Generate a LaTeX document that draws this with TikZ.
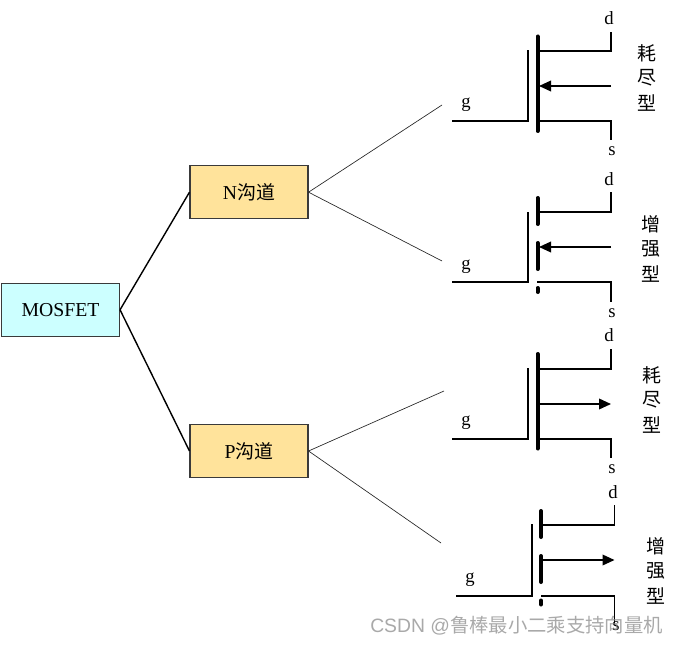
\documentclass[tikz,border=0pt]{standalone}
\usepackage{fontspec}
\setmainfont{Liberation Serif}
\newfontfamily\cjk{Noto Sans CJK SC}
\newfontfamily\wm{Liberation Sans}
\usetikzlibrary{arrows.meta}
\definecolor{boxcyan}{HTML}{CCFFFF}
\definecolor{boxyellow}{HTML}{FFE39B}
\definecolor{boxedge}{HTML}{3A3A3A}
\tikzset{
  x=0.75pt,y=-0.75pt,
  box/.style={draw=boxedge,line width=0.8pt,minimum width=88.5pt,minimum height=39.4pt,inner sep=0pt,anchor=center,font=\fontsize{14.8pt}{16pt}\selectfont},
  trunk/.style={line width=1.05pt,black},
  branch/.style={line width=0.5pt,black!85},
  wire/.style={line width=1.15pt,black},
  chan/.style={line width=3pt,black,line cap=round},
  arrowed/.style={wire,-{Triangle[length=9pt,width=8pt]}},
  pin/.style={font=\fontsize{14pt}{14pt}\selectfont,inner sep=0pt},
  kind/.style={font=\fontsize{14.2pt}{14pt}\selectfont\cjk,inner sep=0pt},
}
\newcommand{\cj}[1]{{\cjk\fontsize{14.2pt}{16pt}\selectfont #1}}
\begin{document}
\begin{tikzpicture}
\useasboundingbox (0,0) rectangle (677,645);
\node[box,fill=boxcyan] (mos) at (60.5,309.8) {MOSFET};
\node[box,fill=boxyellow] (nch) at (249,192.2) {N\cj{沟道}};
\node[box,fill=boxyellow] (pch) at (249,451) {P\cj{沟道}};
\draw[trunk] (mos.east) -- (nch.west);
\draw[trunk] (mos.east) -- (pch.west);
\coordinate (e1) at (442,105);
\coordinate (e2) at (442,261);
\coordinate (e3) at (444,391);
\coordinate (e4) at (441,543);
\draw[branch] (nch.east) -- (e1);
\draw[branch] (nch.east) -- (e2);
\draw[branch] (pch.east) -- (e3);
\draw[branch] (pch.east) -- (e4);
% transistor 1
\draw[wire] (452,121) -- (528,121) -- (528,50);
\draw[chan] (537.5,36.5) -- (537.5,131);
\draw[wire] (537,51) -- (611,51) -- (611,32);
\draw[wire] (537,121) -- (611,121) -- (611,140);
\draw[arrowed] (611,86) -- (539,86);
\node[pin] (d1) at (609,18) {d};
\node[pin] (s1) at (612,151) {s};
\node[pin] (g1) at (466,105) {g};
\node[kind] (k1a) at (647,53) {耗};
\node[kind] (k1b) at (647,78) {尽};
\node[kind] (k1c) at (647,103) {型};
% transistor 2
\draw[wire] (452,282) -- (528,282) -- (528,212);
\draw[chan] (537.5,198) -- (537.5,224);
\draw[chan] (537.5,243) -- (537.5,269);
\draw[chan] (537.5,288) -- (537.5,292);
\draw[wire] (537,212) -- (611,212) -- (611,192);
\draw[wire] (537,282) -- (611,282) -- (611,302);
\draw[arrowed] (611,247) -- (539,247);
\node[pin] (d2) at (609,179) {d};
\node[pin] (s2) at (612,313) {s};
\node[pin] (g2) at (466,267) {g};
\node[kind] (k2a) at (651,224) {增};
\node[kind] (k2b) at (651,249) {强};
\node[kind] (k2c) at (651,274) {型};
% transistor 3
\draw[wire] (452,439) -- (528,439) -- (528,368);
\draw[chan] (537.5,354) -- (537.5,448.5);
\draw[wire] (537,369) -- (611,369) -- (611,349);
\draw[wire] (537,439) -- (611,439) -- (611,458);
\draw[arrowed] (537,404) -- (611,404);
\node[pin] (d3) at (609,335) {d};
\node[pin] (s3) at (612,469) {s};
\node[pin] (g3) at (466,423) {g};
\node[kind] (k3a) at (652,375) {耗};
\node[kind] (k3b) at (652,400) {尽};
\node[kind] (k3c) at (652,425) {型};
% transistor 4
\draw[wire] (456,596) -- (532,596) -- (532,524);
\draw[chan] (541,511) -- (541,537);
\draw[chan] (541,556) -- (541,582);
\draw[chan] (541,600.5) -- (541,604.5);
\draw[wire] (541,525) -- (614.5,525) -- (614.5,505);
\draw[wire] (541,596) -- (614.5,596) -- (614.5,624);
\draw[arrowed] (541,560) -- (614.5,560);
\node[pin] (d4) at (613,492) {d};
\node[pin] (s4) at (616,626) {s};
\node[pin] (g4) at (470,580) {g};
\node[kind] (k4a) at (656,546) {增};
\node[kind] (k4b) at (656,571) {强};
\node[kind] (k4c) at (656,596) {型};
% watermark
\node[anchor=west,inner sep=0pt,text=black!45,opacity=0.75] (wmark) at (370,626) {\fontsize{14.5pt}{16pt}\selectfont\wm CSDN @\cjk 鲁棒最小二乘支持向量机};
\end{tikzpicture}
\end{document}
